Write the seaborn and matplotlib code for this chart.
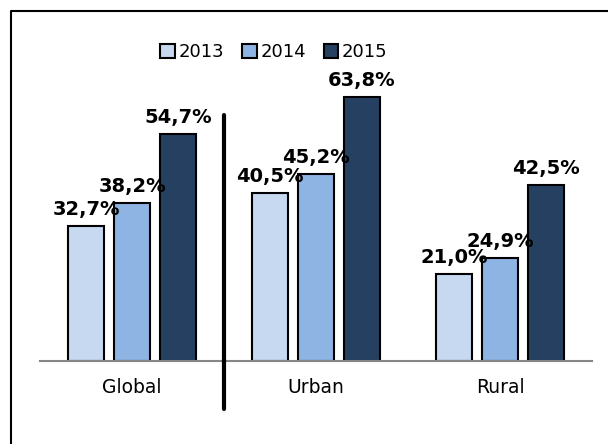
import pandas as pd
import matplotlib
matplotlib.use('Agg')
import matplotlib.pyplot as plt
import seaborn as sns
from matplotlib.lines import Line2D

regions = ['Global', 'Urban', 'Rural']
years = ['2013', '2014', '2015']
vals_2013 = [32.7, 40.5, 21.0]
vals_2014 = [38.2, 45.2, 24.9]
vals_2015 = [54.7, 63.8, 42.5]
colors = ['#C6D9F1', '#8EB4E3', '#254061']

df = pd.DataFrame({
    'region': regions * 3,
    'year': [y for y in years for _ in regions],
    'value': vals_2013 + vals_2014 + vals_2015,
})

sns.set_style('white')
plt.rcParams['font.family'] = ['DejaVu Sans']
plt.rcParams['text.color'] = 'black'
plt.rcParams['xtick.color'] = 'black'

fig = plt.figure(figsize=(6.08, 4.44), dpi=100)
ax = fig.add_axes([40 / 608, 83 / 444, 552 / 608, 290 / 444])

sns.barplot(data=df, x='region', y='value', hue='year', palette=colors, saturation=1,
            width=0.75, gap=0.2, edgecolor='black', linewidth=1.5, ax=ax)

ax.set_xlim(-0.5, 2.5)
ax.set_ylim(0, 70)
ax.set_xlabel('')
ax.set_ylabel('')
ax.set_yticks([])
for s in ['top', 'right', 'left']:
    ax.spines[s].set_visible(False)
ax.spines['bottom'].set_color('#868686')
ax.spines['bottom'].set_linewidth(1.5)
ax.tick_params(axis='x', length=0, labelsize=13.5, pad=12, labelcolor='black')

for cont, vals in zip(ax.containers, [vals_2013, vals_2014, vals_2015]):
    labels = [f'{v:.1f}%'.replace('.', ',') for v in vals]
    ax.bar_label(cont, labels=labels, padding=5, fontsize=14, fontweight='bold', color='black')

leg = ax.legend(loc='center', bbox_to_anchor=(274 / 608, 1 - 52 / 444), bbox_transform=fig.transFigure,
                ncol=3, frameon=False, fontsize=13, handlelength=0.8, handleheight=0.8,
                handletextpad=0.2, columnspacing=1.0)
for t in leg.get_texts():
    t.set_color('black')

# separator line between Global and Urban
fig.add_artist(Line2D([224 / 608, 224 / 608], [1 - 409 / 444, 1 - 115 / 444],
                      color='black', lw=3, transform=fig.transFigure))

# outer frame (left and top)
fig.add_artist(Line2D([10.5 / 608, 10.5 / 608, 1.0], [0, 1 - 11 / 444, 1 - 11 / 444],
                      color='black', lw=1.5, transform=fig.transFigure))

fig.savefig('out.png', dpi=100)
